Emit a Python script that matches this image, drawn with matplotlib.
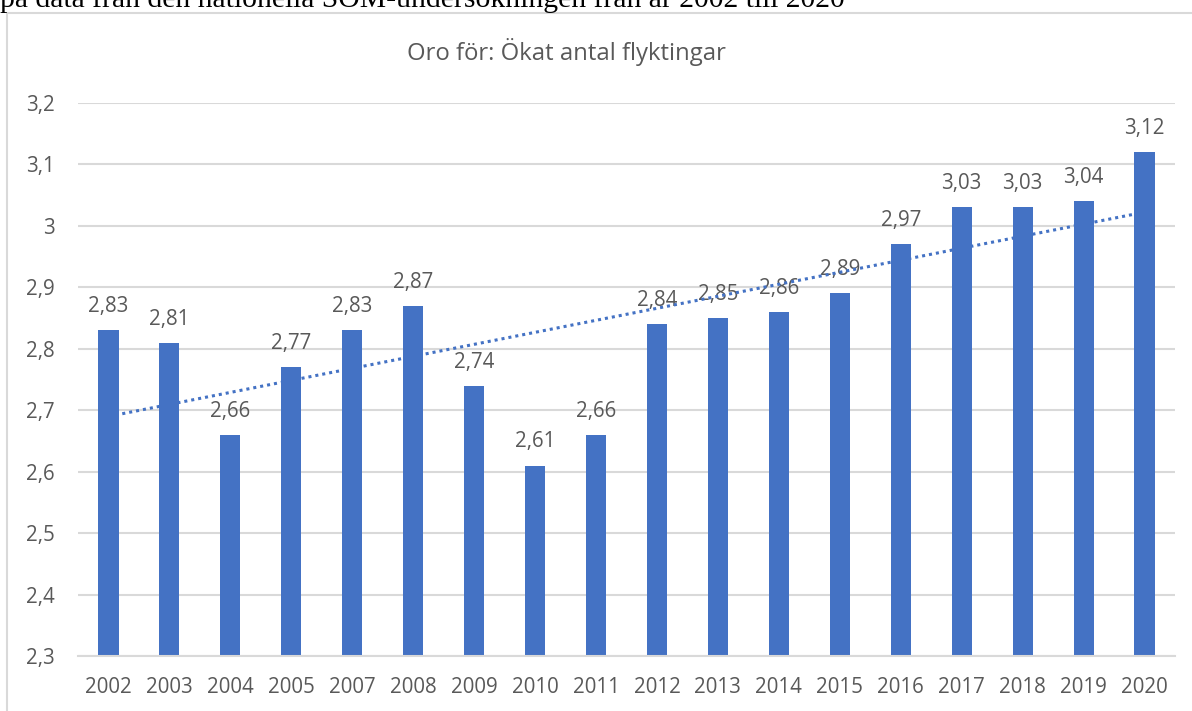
import numpy as np
import matplotlib
matplotlib.use("Agg")
import matplotlib.pyplot as plt
from matplotlib.patches import Rectangle

years = ["2002", "2003", "2004", "2005", "2007", "2008", "2009", "2010", "2011",
         "2012", "2013", "2014", "2015", "2016", "2017", "2018", "2019", "2020"]
values = [2.83, 2.81, 2.66, 2.77, 2.83, 2.87, 2.74, 2.61, 2.66,
          2.84, 2.85, 2.86, 2.89, 2.97, 3.03, 3.03, 3.04, 3.12]
yticks = [2.3, 2.4, 2.5, 2.6, 2.7, 2.8, 2.9, 3.0, 3.1, 3.2]

title = "Oro för: Ökat antal flyktingar"
caption = "på data från den nationella SOM-undersökningen från år 2002 till 2020"

W, H = 1192, 711
fig = plt.figure(figsize=(W / 100, H / 100), dpi=100)
plt.rcParams['font.family'] = ['Open Sans', 'DejaVu Sans']

grey = "#595959"
bar_col = "#4472C4"

# cut-off caption above chart
fig.text(0.0, 1 - 7 / H, caption, family=['Liberation Serif'], fontsize=21.3,
         color="black", ha="left", va="baseline")

# chart border
fig.patches.append(Rectangle((7.5 / W, -0.1), 1.2, (H - 12.5) / H + 0.1,
                             transform=fig.transFigure, fill=False,
                             edgecolor="#d9d9d9", linewidth=1.5))

ax = fig.add_axes([78 / W, (H - 656) / H, (1175 - 78) / W, (656 - 103) / H])
x = np.arange(len(years))
ax.bar(x, values, width=0.33, color=bar_col, zorder=2)

# linear trendline
coef = np.polyfit(x, values, 1)
ax.plot(x, np.polyval(coef, x), linestyle=(0, (1, 1.3)), color=bar_col,
        linewidth=2.2, zorder=4)

for xi, v in zip(x, values):
    ax.annotate(f"{v:.2f}".replace(".", ","), (xi, v), xytext=(0, 13),
                textcoords="offset points", ha="center", va="baseline",
                fontsize=14.8, color=grey, zorder=3)

ax.set_xlim(-0.5, len(years) - 0.5)
ax.set_ylim(2.3, 3.2)
ax.set_yticks(yticks)
ax.set_yticklabels([f"{t:.1f}".replace(".", ",").replace(",0", "") for t in yticks])
ax.set_xticks(x)
ax.set_xticklabels(years)
ax.tick_params(axis="both", length=0, labelsize=14.8, labelcolor=grey)
ax.tick_params(axis="y", pad=17)
ax.tick_params(axis="x", pad=15)
ax.grid(axis="y", color="#d9d9d9", linewidth=1.5, zorder=0)
ax.set_axisbelow(True)
for s in ["top", "right", "left"]:
    ax.spines[s].set_visible(False)
ax.spines["bottom"].set_color("#d9d9d9")
ax.spines["bottom"].set_linewidth(1.5)

fig.text(566 / W, 1 - 52 / H, title, ha="center", va="center",
         fontsize=17.2, color=grey)

fig.savefig("out.png", dpi=100)
